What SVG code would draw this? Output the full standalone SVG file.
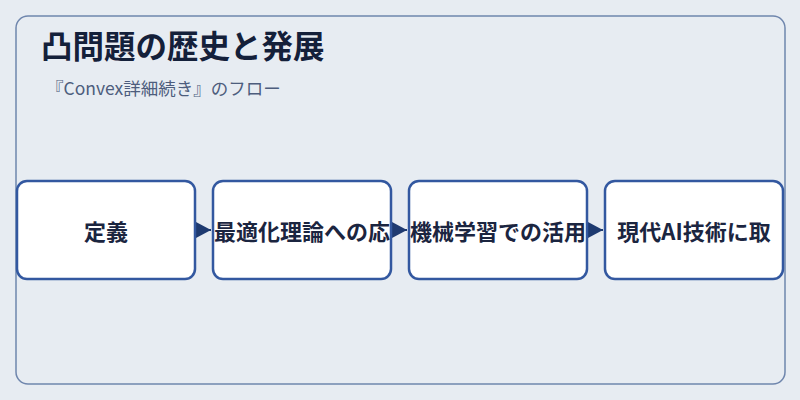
<svg xmlns="http://www.w3.org/2000/svg" width="800" height="400" viewBox="0 0 800 400">
<defs>
<style>
.node rect{fill:#ffffff;stroke:#3358a0;stroke-width:2.5}
.node text{font-family:"Noto Sans CJK JP","Noto Sans",sans-serif;font-size:22px;font-weight:bold;fill:#1b2540;text-anchor:middle;dominant-baseline:central}
.conn{stroke:#1e3a70;stroke-width:2;fill:none}
</style>
<marker id="arr" markerWidth="15" markerHeight="16" refX="15" refY="8" orient="auto" markerUnits="userSpaceOnUse">
<path d="M0,0 L15,8 L0,16 Z" fill="#1e3a70"/>
</marker>
</defs>
<rect x="0" y="0" width="800" height="400" fill="#e7ecf2"/>
<rect id="frame" x="16" y="16" width="769" height="368" rx="12" fill="#e7ecf2" stroke="#6f86ad" stroke-width="1.5"/>
<text x="41" y="58" font-family="Noto Sans CJK JP, sans-serif" font-size="31.5" font-weight="bold" fill="#14203a">凸問題の歴史と発展</text>
<text x="46" y="95" font-family="Noto Sans CJK JP, sans-serif" font-size="17.5" fill="#4d5d7d">『Convex詳細続き』のフロー</text>
<g id="connectors">
<path class="conn" d="M196,230 L211,230" marker-end="url(#arr)"/>
<path class="conn" d="M392,230 L407,230" marker-end="url(#arr)"/>
<path class="conn" d="M588,230 L603,230" marker-end="url(#arr)"/>
</g>
<g id="node1" class="node"><rect x="17" y="181" width="178" height="98" rx="10"/><text x="106" y="230">定義</text></g>
<g id="node2" class="node"><rect x="213" y="181" width="178" height="98" rx="10"/><text x="302" y="230">最適化理論への応</text></g>
<g id="node3" class="node"><rect x="409" y="181" width="178" height="98" rx="10"/><text x="498" y="230">機械学習での活用</text></g>
<g id="node4" class="node"><rect x="605" y="181" width="178" height="98" rx="10"/><text x="694" y="230">現代AI技術に取</text></g>
</svg>
